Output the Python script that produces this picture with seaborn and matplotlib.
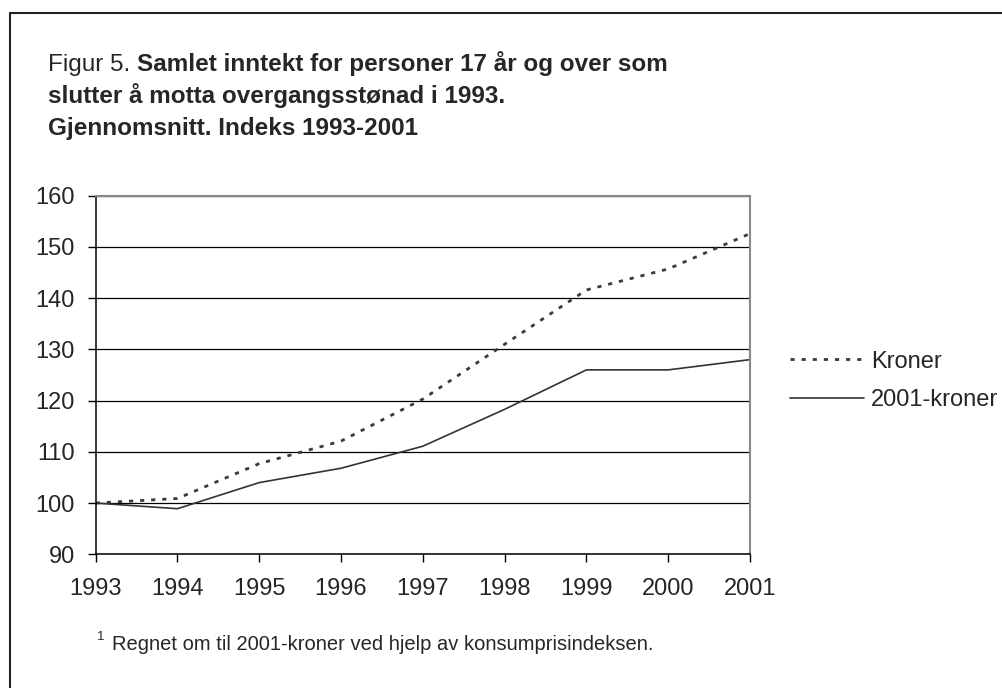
import pandas as pd
import numpy as np
import matplotlib
matplotlib.use('Agg')
import matplotlib.pyplot as plt
import seaborn as sns
from matplotlib.lines import Line2D

years = [1993, 1994, 1995, 1996, 1997, 1998, 1999, 2000, 2001]
kroner = [100, 100.9, 107.7, 112.1, 120.3, 131.0, 141.6, 145.7, 152.6]
kroner_2001 = [100, 98.9, 104.0, 106.8, 111.1, 118.3, 126.0, 126.0, 128.0]
series_names = ['Kroner', '2001-kroner']
yticks = [90, 100, 110, 120, 130, 140, 150, 160]

title_prefix = 'Figur 5.'
title_lines = ['Samlet inntekt for personer 17 år og over som',
               'slutter å motta overgangsstønad i 1993.',
               'Gjennomsnitt. Indeks 1993-2001']
footnote = 'Regnet om til 2001-kroner ved hjelp av konsumprisindeksen.'

df = pd.DataFrame({
    'year': years * 2,
    'value': kroner + kroner_2001,
    'serie': [series_names[0]] * len(years) + [series_names[1]] * len(years),
})

sns.set_style('white')
plt.rcParams['font.family'] = ['Liberation Sans', 'DejaVu Sans']

W, H = 1003, 688
fig = plt.figure(figsize=(W / 100, H / 100), dpi=100)
ax = fig.add_axes([95.7 / W, 1 - 554.3 / H, (750 - 95.7) / W, (554.3 - 195.7) / H])

sns.lineplot(data=df, x='year', y='value', hue='serie', style='serie',
             palette={'Kroner': '#3a3a3a', '2001-kroner': '#333333'},
             dashes={'Kroner': (1.5, 2.5), '2001-kroner': ''},
             ax=ax, legend=False)
lw = {'Kroner': 2.0, '2001-kroner': 1.2}
for line, name in zip(ax.get_lines(), series_names):
    line.set_linewidth(lw[name])

ax.set_xlim(years[0], years[-1])
ax.set_ylim(yticks[0], yticks[-1])
ax.set_xticks(years)
ax.set_yticks(yticks)
ax.yaxis.grid(True, color='black', linewidth=0.9)
ax.set_axisbelow(True)
ax.set_xlabel('')
ax.set_ylabel('')
ax.tick_params(axis='both', which='both', direction='out', length=6, width=1,
               color='black', labelsize=17, left=True, bottom=True)
ax.tick_params(axis='y', pad=9)
ax.tick_params(axis='x', pad=11)
for s in ['left', 'bottom']:
    ax.spines[s].set_color('black')
    ax.spines[s].set_linewidth(1.1)
for s in ['top', 'right']:
    ax.spines[s].set_color('#888888')
    ax.spines[s].set_linewidth(1.5)

handles = [Line2D([], [], color='#3a3a3a', lw=2.0, dashes=(1.5, 2.5)),
           Line2D([], [], color='#333333', lw=1.2)]
fig.legend(handles, series_names, loc='center left',
           bbox_to_anchor=(781 / W, 1 - 381 / H), frameon=False,
           fontsize=17, handlelength=3.1, handletextpad=0.3,
           labelspacing=0.7, borderaxespad=0)

# title, first part normal then bold
renderer = fig.canvas.get_renderer()
x0 = 48 / W
tsize = 17.5
t = fig.text(x0, 1 - 71 / H, title_prefix + ' ', fontsize=tsize,
             va='baseline', ha='left')
bb = t.get_window_extent(renderer)
fig.text(bb.x1 / W, 1 - 71 / H, title_lines[0], fontsize=tsize,
         fontweight='bold', va='baseline', ha='left')
fig.text(x0, 1 - 103 / H, title_lines[1], fontsize=tsize,
         fontweight='bold', va='baseline', ha='left')
fig.text(x0, 1 - 134.5 / H, title_lines[2], fontsize=tsize,
         fontweight='bold', va='baseline', ha='left')

# footnote
fig.text(97 / W, 1 - 640 / H, '1', fontsize=9.5, va='baseline', ha='left')
fig.text(112 / W, 1 - 650 / H, footnote, fontsize=14.5, va='baseline', ha='left')

# frame top and left
fig.add_artist(Line2D([10 / W, 10 / W], [0, 1 - 12.5 / H], color='#222222',
                      lw=1.5, transform=fig.transFigure))
fig.add_artist(Line2D([10 / W, 1], [1 - 12.5 / H, 1 - 12.5 / H], color='#222222',
                      lw=1.5, transform=fig.transFigure))

fig.savefig('out.png', dpi=100)
